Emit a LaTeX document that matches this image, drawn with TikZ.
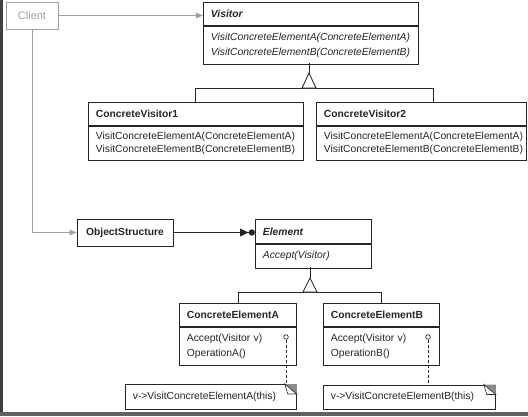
\documentclass[tikz,border=0pt]{standalone}
\usepackage{fontspec}
\setmainfont{Liberation Sans}
\usetikzlibrary{calc,arrows.meta}
\definecolor{ink}{HTML}{262626}
\definecolor{txt}{HTML}{262626}
\definecolor{cgray}{HTML}{A0A0A0}
\begin{document}
\begin{tikzpicture}[x=1pt,y=-1pt,
  cls/.style={draw=ink, line width=0.85pt, fill=white, rectangle, anchor=north west,
    inner xsep=7.5pt, inner ysep=0pt, align=left, text=txt,
    font=\fontsize{10.3}{13.5}\selectfont},
  clshead/.style={cls, font=\fontsize{10.3}{13.5}\selectfont\bfseries},
  abshead/.style={cls, font=\fontsize{10.3}{13.5}\selectfont\bfseries\itshape},
  absbody/.style={cls, font=\fontsize{10.3}{15}\selectfont\itshape},
  note/.style={cls, line width=0.75pt},
  conn/.style={draw=ink, line width=0.85pt},
  gconn/.style={draw=cgray, line width=0.85pt, -{Triangle[length=7pt,width=5.5pt]}},
  inh/.style={draw=ink, line width=0.85pt, fill=white},
  pin/.style={circle, draw=ink, line width=0.7pt, fill=white, minimum size=4.6pt, inner sep=0pt},
]
\useasboundingbox (0,0) rectangle (528,416);
\fill[white] (0,0) rectangle (528,416);
\fill[black!75] (0,0) rectangle (3,416);
\fill[black!62] (0,412) rectangle (528,416);

% Client
\node[draw=cgray, line width=0.85pt, fill=white, text=cgray, minimum width=52pt, minimum height=27pt,
  inner sep=0pt, font=\fontsize{11}{12}\selectfont] (client) at (32,15.5) {Client};

% Visitor
\node[abshead, minimum width=215pt, text width=200pt, minimum height=23pt] (vish) at (203,2) {Visitor};
\node[absbody, minimum width=215pt, text width=200pt, minimum height=38pt] (visb) at (vish.south west)
  {VisitConcreteElementA(ConcreteElementA)\\VisitConcreteElementB(ConcreteElementB)};

% ConcreteVisitor1
\node[clshead, minimum width=215pt, text width=200pt, minimum height=23pt] (cv1h) at (88,102) {ConcreteVisitor1};
\node[cls, minimum width=215pt, text width=200pt, minimum height=34pt] (cv1b) at (cv1h.south west)
  {VisitConcreteElementA(ConcreteElementA)\\VisitConcreteElementB(ConcreteElementB)};

% ConcreteVisitor2
\node[clshead, minimum width=210pt, text width=195pt, minimum height=23pt] (cv2h) at (316,102) {ConcreteVisitor2};
\node[cls, minimum width=210pt, text width=195pt, minimum height=34pt] (cv2b) at (cv2h.south west)
  {VisitConcreteElementA(ConcreteElementA)\\VisitConcreteElementB(ConcreteElementB)};

% ObjectStructure
\node[draw=ink, line width=0.85pt, fill=white, text=txt, minimum width=96pt, minimum height=27pt,
  inner sep=0pt, font=\fontsize{10.3}{12}\selectfont\bfseries] (os) at (125,232.5) {ObjectStructure};

% Element
\node[abshead, minimum width=116pt, text width=101pt, minimum height=24pt] (elh) at (255,219) {Element};
\node[absbody, minimum width=116pt, text width=101pt, minimum height=24pt] (elb) at (elh.south west) {Accept(Visitor)};

% ConcreteElementA
\node[clshead, minimum width=117pt, text width=102pt, minimum height=23pt] (ceah) at (179,303) {ConcreteElementA};
\node[cls, minimum width=117pt, text width=102pt, minimum height=38pt, font=\fontsize{10.3}{15}\selectfont] (ceab) at (ceah.south west)
  {Accept(Visitor v)\\OperationA()};

% ConcreteElementB
\node[clshead, minimum width=116pt, text width=101pt, minimum height=23pt] (cebh) at (323,303) {ConcreteElementB};
\node[cls, minimum width=116pt, text width=101pt, minimum height=38pt, font=\fontsize{10.3}{15}\selectfont] (cebb) at (cebh.south west)
  {Accept(Visitor v)\\OperationB()};

% Notes
\node[note, minimum width=171pt, text width=156pt, minimum height=25pt, inner xsep=5pt] (noteA) at (125,384)
  {v->VisitConcreteElementA(this)};
\node[note, minimum width=172pt, text width=157pt, minimum height=24pt, inner xsep=5pt] (noteB) at (323,384.5)
  {v->VisitConcreteElementB(this)};
\foreach \n in {noteA,noteB}{
  \fill[black!45] ($(\n.north east)+(-12,0)$) -- (\n.north east) -- ($(\n.north east)+(0,10)$) -- cycle;
  \draw[ink, line width=0.6pt, fill=white] ($(\n.north east)+(-12,0)$) -- ($(\n.north east)+(0,10)$) -- ($(\n.north east)+(-9,10)$) -- cycle;
}

% Client associations
\draw[gconn] (client.east) -- (vish.west |- client.east);
\draw[gconn] (client.south) |- (os.west);

% Visitor inheritance
\coordinate (vtop) at (309,73);
\draw[conn] (309,63) -- (vtop);
\draw[conn] (195,88) -- (433,88);
\draw[conn] (195,88) -- (195,102);
\draw[conn] (433,88) -- (433,102);
\draw[inh] (vtop) -- (302,88) -- (316,88) -- cycle;

% Element inheritance
\coordinate (etop) at (310,278);
\draw[conn] (310,267) -- (etop);
\draw[conn] (ceah.north) -- ++(0,-11) -| (cebh.north);
\draw[inh] (etop) -- (303,292) -- (317,292) -- cycle;

% Aggregation ObjectStructure -> Element
\draw[conn] (os.east) -- (elh.west |- os.east);
\fill[ink] ($(elh.west |- os.east)+(-3.2,0)$) circle (3.2pt);
\fill[ink] ($(elh.west |- os.east)+(-15,-4)$) -- ($(elh.west |- os.east)+(-6.4,0)$) -- ($(elh.west |- os.east)+(-15,4)$) -- cycle;

% Implementation notes
\node[pin] (pinA) at (286,337) {};
\node[pin] (pinB) at (428,337) {};
\draw[conn, line width=0.7pt, dash pattern=on 3pt off 2pt] (pinA.south) -- (pinA |- noteA.north);
\draw[conn, line width=0.7pt, dash pattern=on 3pt off 2pt] (pinB.south) -- (pinB |- noteB.north);
\end{tikzpicture}
\end{document}
